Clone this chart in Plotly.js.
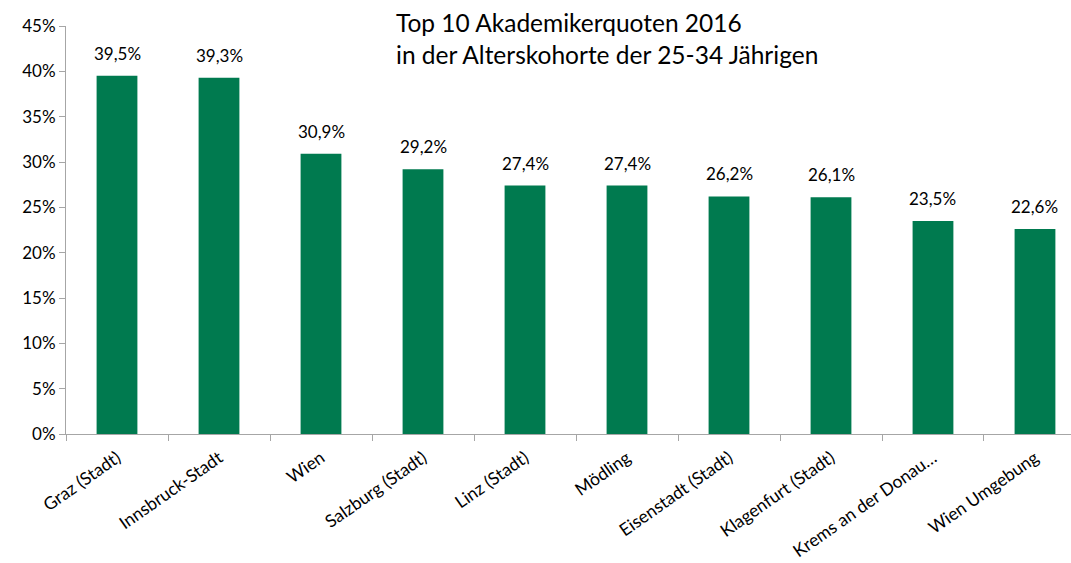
<!DOCTYPE html>
<html>
<head>
<meta charset="utf-8">
<script src="https://cdn.plot.ly/plotly-3.0.1.min.js"></script>
<style>html,body{margin:0;padding:0;background:#fff;}#chart{width:1071px;height:563px;}</style>
</head>
<body>
<div id="chart"></div>
<script>
const categories = ["Graz (Stadt)", "Innsbruck-Stadt", "Wien", "Salzburg (Stadt)", "Linz (Stadt)", "Mödling", "Eisenstadt (Stadt)", "Klagenfurt (Stadt)", "Krems an der Donau…", "Wien Umgebung"];
const quotes = [39.5, 39.3, 30.9, 29.2, 27.4, 27.4, 26.2, 26.1, 23.5, 22.6];
const titleLines = ["Top 10 Akademikerquoten 2016", "in der Alterskohorte der 25-34 Jährigen"];

const fontFam = "Lato, 'Open Sans', sans-serif";
const trace = {
  type: 'bar',
  x: categories,
  y: quotes,
  marker: {color: '#007a4f', line: {width: 0}},
  hoverinfo: 'none'
};
const labelAnns = categories.map((c, i) => ({
  x: c, y: quotes[i], xref: 'x', yref: 'y',
  text: quotes[i].toFixed(1).replace('.', ',') + '%',
  showarrow: false, yanchor: 'bottom', yshift: 10,
  font: {family: fontFam, size: 17, color: '#000'}
}));
const layout = {
  width: 1071, height: 563,
  margin: {l: 66, r: 0, t: 26, b: 129},
  separators: ',.',
  paper_bgcolor: '#fff', plot_bgcolor: '#fff',
  bargap: 0.6,
  showlegend: false,
  font: {family: fontFam, size: 17, color: '#000'},
  xaxis: {
    type: 'category',
    range: [-0.5, 9.353],
    showline: true, linecolor: '#a6a6a6', linewidth: 1,
    ticks: 'outside', tickson: 'boundaries', ticklen: 6, tickcolor: '#a6a6a6',
    tickangle: -35,
    ticklabelstandoff: 6,
    tickfont: {family: fontFam, size: 17.5, color: '#000'},
    showgrid: false, zeroline: false, fixedrange: true
  },
  yaxis: {
    range: [0, 45], dtick: 5, tick0: 0,
    ticksuffix: '%',
    showline: true, linecolor: '#a6a6a6', linewidth: 1,
    ticks: 'outside', ticklen: 6, tickcolor: '#a6a6a6',
    tickfont: {family: fontFam, size: 17, color: '#000'},
    showgrid: false, zeroline: false, fixedrange: true
  },
  annotations: labelAnns.concat([{
    xref: 'paper', yref: 'paper',
    x: (394 - 66) / 1005, y: 1 + (26 - 6) / 408,
    xanchor: 'left', yanchor: 'top',
    align: 'left',
    showarrow: false,
    text: titleLines.join('<br>'),
    font: {family: fontFam, size: 24.5, color: '#000'}
  }])
};
Plotly.newPlot('chart', [trace], layout, {displayModeBar: false, staticPlot: true});
</script>
</body>
</html>
